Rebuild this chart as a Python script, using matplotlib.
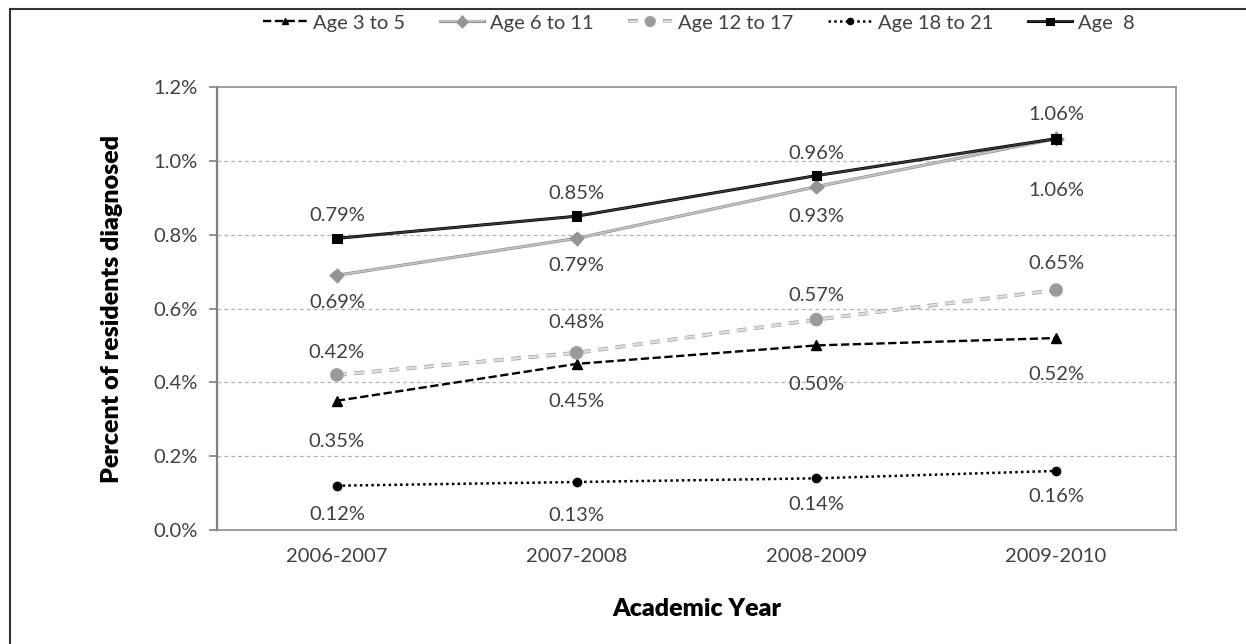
import matplotlib
matplotlib.use("Agg")
import matplotlib.pyplot as plt
import matplotlib.patheffects as pe
from matplotlib.lines import Line2D

plt.rcParams['font.family'] = ['Lato', 'DejaVu Sans']

years = ["2006-2007", "2007-2008", "2008-2009", "2009-2010"]
age_3_5 = [0.35, 0.45, 0.50, 0.52]
age_6_11 = [0.69, 0.79, 0.93, 1.06]
age_12_17 = [0.42, 0.48, 0.57, 0.65]
age_18_21 = [0.12, 0.13, 0.14, 0.16]
age_8 = [0.79, 0.85, 0.96, 1.06]
y_ticks = [0.0, 0.2, 0.4, 0.6, 0.8, 1.0, 1.2]

W, H = 1246, 644
fig = plt.figure(figsize=(W / 100, H / 100), dpi=100)
ax = fig.add_axes([217 / W, 1 - 530 / H, (1176 - 217) / W, (530 - 87) / H])

x = list(range(len(years)))
txt = '#404040'
FS = 14.5

series = [
    dict(y=age_3_5, label="Age 3 to 5", color='black', ls=(0, (3.5, 1.5)), lw=1.7,
         marker='^', ms=6.5, mfc='black', mec='black', offs=[-41, -38, -39, -36], under=None),
    dict(y=age_6_11, label="Age 6 to 11", color='#c4c4c4', ls='-', lw=1.3,
         marker='D', ms=5.5, mfc='#959595', mec='#959595', offs=[-27, -27, -30, -52], under='#909090'),
    dict(y=age_12_17, label="Age 12 to 17", color='#dedede', ls=(0, (4, 3)), lw=1.8,
         marker='o', ms=7, mfc='#9a9a9a', mec='#9a9a9a', offs=[22, 30, 24, 27], under='#a0a0a0'),
    dict(y=age_18_21, label="Age 18 to 21", color='black', ls=(0, (1, 1.3)), lw=1.8,
         marker='o', ms=6, mfc='black', mec='black', offs=[-29, -33, -26, -26], under=None),
    dict(y=age_8, label="Age  8", color='#3a3a3a', ls='-', lw=1.2,
         marker='s', ms=5.5, mfc='black', mec='black', offs=[23, 23, 22, 24], under='#000000'),
]

handles = []
for s in series:
    kw = {}
    if s['under'] is not None:
        kw['path_effects'] = [pe.Stroke(linewidth=s['lw'] + 1.0, foreground=s['under']), pe.Normal()]
    line, = ax.plot(x, s['y'], color=s['color'], linestyle=s['ls'], linewidth=s['lw'],
                    marker=s['marker'], markersize=s['ms'], markerfacecolor=s['mfc'],
                    markeredgecolor=s['mec'], label=s['label'], zorder=3, **kw)
    handles.append(line)
    for xi, yi, off in zip(x, s['y'], s['offs']):
        ax.annotate(f"{yi:.2f}%", (xi, yi), xytext=(0, off), textcoords='offset pixels',
                    ha='center', va='center', fontsize=FS, color=txt, zorder=4)

ax.set_xlim(-0.5, len(years) - 0.5)
ax.set_ylim(0, 1.2)
ax.set_yticks(y_ticks)
ax.set_yticklabels([f"{v:.1f}%" for v in y_ticks], fontsize=FS, color=txt)
ax.set_xticks(x)
ax.set_xticklabels(years, fontsize=FS, color=txt)
ax.tick_params(axis='x', length=0, pad=13)
ax.tick_params(axis='y', length=6, width=1.2, color='#7f7f7f', pad=8)

for v in y_ticks[1:-1]:
    ax.axhline(v, color='#b0b0b0', linestyle=(0, (3, 2.5)), linewidth=0.9, zorder=1)

for side in ['top', 'right', 'bottom']:
    ax.spines[side].set_color('#8c8c8c')
    ax.spines[side].set_linewidth(1.2)
ax.spines['left'].set_color('#7f7f7f')
ax.spines['left'].set_linewidth(1.6)

ax.set_ylabel("Percent of residents diagnosed", fontsize=18, fontweight='heavy', labelpad=22)
ax.set_xlabel("Academic Year", fontsize=18, fontweight='heavy', labelpad=24)

fig.legend(handles=handles, loc='center', bbox_to_anchor=(699 / W, 1 - 23 / H), ncol=5,
           frameon=False, fontsize=FS, handlelength=2.2, columnspacing=1.7, handletextpad=0.3,
           labelcolor=txt, markerscale=0.75)

# outer frame (top and left edges visible)
fig.add_artist(Line2D([10 / W, 1.0], [1 - 9 / H, 1 - 9 / H], transform=fig.transFigure,
                      color='#333333', linewidth=1.5))
fig.add_artist(Line2D([10 / W, 10 / W], [0.0, 1 - 9 / H], transform=fig.transFigure,
                      color='#333333', linewidth=1.5))

fig.savefig("out.png", dpi=100)
